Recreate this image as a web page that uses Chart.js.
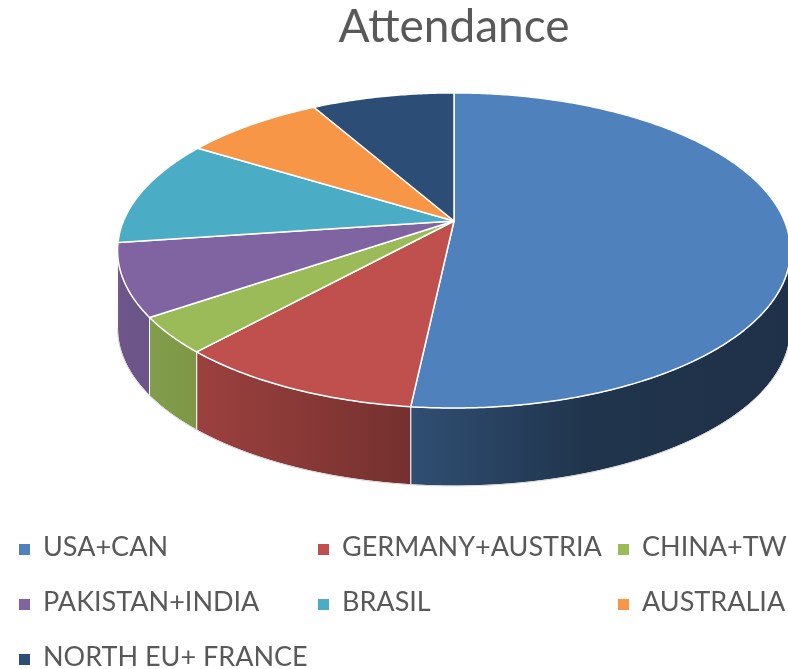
<!DOCTYPE html>
<html>
<head>
<meta charset="utf-8">
<script src="https://cdn.jsdelivr.net/npm/chart.js@4.4.1/dist/chart.umd.min.js"></script>
<style>
    body { margin: 0; background: #fff; }
    #wrap { position: relative; width: 788px; height: 669px; overflow: hidden; }
    #legend { position: absolute; left: 0; top: 0; font-family: Lato, sans-serif; font-size: 27px; color: #595959; }
    .mark { position: absolute; width: 11px; height: 11px; }
    .txt { position: absolute; white-space: nowrap; line-height: 30px; }
</style>
</head>
<body>
<div id="wrap">
    <canvas id="pieChart" width="788" height="669"></canvas>
    <div id="legend"></div>
</div>
<script>
const labels = ['USA+CAN', 'GERMANY+AUSTRIA', 'CHINA+TW', 'PAKISTAN+INDIA', 'BRASIL', 'AUSTRALIA', 'NORTH EU+ FRANCE'];
const values = [51.7, 10.0, 3.7, 7.4, 11.0, 8.0, 8.2];
const colors = ['#4f81bd', '#c0504d', '#9bbb59', '#8064a2', '#4bacc6', '#f79646', '#2c4d75'];

function shade(hex, f) {
    const n = parseInt(hex.slice(1), 16);
    const r = Math.round(((n >> 16) & 255) * f);
    const g = Math.round(((n >> 8) & 255) * f);
    const b = Math.round((n & 255) * f);
    return 'rgb(' + r + ',' + g + ',' + b + ')';
}

// draws the pie as a tilted disc with a side wall, using the arc angles chart.js computed
const pie3d = {
    id: 'pie3d',
    beforeDatasetsDraw(chart, args, opts) {
        const ctx = chart.ctx;
        const arcs = chart.getDatasetMeta(0).data;
        const cx = arcs[0].x;
        const A = arcs[0].outerRadius;
        const B = A * opts.tilt;
        const cy = opts.centerY;
        const p = opts.perspective;
        const d = opts.depth;

        const pt = (a, dz) => {
            const w = 1 - p * Math.sin(a);
            return [cx + A * Math.cos(a) / w, cy + B * Math.sin(a) / w + dz];
        };
        const rim = (a0, a1, dz) => {
            const n = Math.max(2, Math.ceil(Math.abs(a1 - a0) / 0.01));
            for (let i = 0; i <= n; i++) {
                const q = pt(a0 + (a1 - a0) * i / n, dz);
                ctx.lineTo(q[0], q[1]);
            }
        };

        const half = A / Math.sqrt(1 - p * p);
        const xL = cx - half, xR = cx + half;
        const sideA = Math.asin(p), sideB = Math.PI - Math.asin(p);

        ctx.save();
        ctx.lineJoin = 'round';

        // side wall
        arcs.forEach((arc, i) => {
            const s = Math.max(arc.startAngle, sideA);
            const e = Math.min(arc.endAngle, sideB);
            if (e <= s) return;
            const grad = ctx.createLinearGradient(xL, 0, xR, 0);
            grad.addColorStop(0, shade(colors[i], 0.86));
            grad.addColorStop(0.13, shade(colors[i], 0.80));
            grad.addColorStop(0.43, shade(colors[i], 0.61));
            grad.addColorStop(0.70, shade(colors[i], 0.40));
            grad.addColorStop(1, shade(colors[i], 0.38));
            ctx.beginPath();
            const q = pt(s, 0);
            ctx.moveTo(q[0], q[1]);
            rim(s, e, 0);
            rim(e, s, d);
            ctx.closePath();
            ctx.fillStyle = grad;
            ctx.fill();
            ctx.strokeStyle = 'rgba(255,255,255,0.9)';
            ctx.lineWidth = 1;
            ctx.stroke();
        });

        // outline of the bottom edge
        ctx.beginPath();
        const b0 = pt(sideA, d);
        ctx.moveTo(b0[0], b0[1]);
        rim(sideA, sideB, d);
        ctx.strokeStyle = '#d9d9d9';
        ctx.lineWidth = 1;
        ctx.stroke();

        // top faces
        arcs.forEach((arc, i) => {
            ctx.beginPath();
            ctx.moveTo(cx, cy);
            rim(arc.startAngle, arc.endAngle, 0);
            ctx.closePath();
            ctx.fillStyle = colors[i];
            ctx.fill();
            ctx.strokeStyle = '#ffffff';
            ctx.lineWidth = 1.5;
            ctx.stroke();
        });

        ctx.restore();
        return false;
    }
};

const chart = new Chart(document.getElementById('pieChart'), {
    type: 'pie',
    data: {
        labels: labels,
        datasets: [{
            data: values,
            backgroundColor: colors,
            borderColor: '#ffffff',
            borderWidth: 1.5,
            radius: 330.5
        }]
    },
    options: {
        responsive: false,
        animation: false,
        layout: { padding: { left: 120 } },
        plugins: {
            legend: { display: false },
            tooltip: { enabled: false },
            title: {
                display: true,
                text: 'Attendance',
                color: '#595959',
                font: { family: 'Lato', size: 46, weight: 'normal' },
                padding: { top: 0, bottom: 0 }
            },
            pie3d: { centerY: 221, tilt: 0.46, perspective: 0.187, depth: 78 }
        }
    },
    plugins: [pie3d]
});

// legend laid out in three columns like the original
const colX = [19, 318, 618];
const rowY = [547, 602, 657];
const legend = document.getElementById('legend');
labels.forEach((label, i) => {
    const x = colX[i % 3];
    const y = rowY[Math.floor(i / 3)];
    const m = document.createElement('div');
    m.className = 'mark';
    m.style.left = x + 'px';
    m.style.top = (y - 3) + 'px';
    m.style.background = colors[i];
    legend.appendChild(m);
    const t = document.createElement('div');
    t.className = 'txt';
    t.style.left = (x + 24) + 'px';
    t.style.top = (y - 16) + 'px';
    t.textContent = label;
    legend.appendChild(t);
});
</script>
</body>
</html>
